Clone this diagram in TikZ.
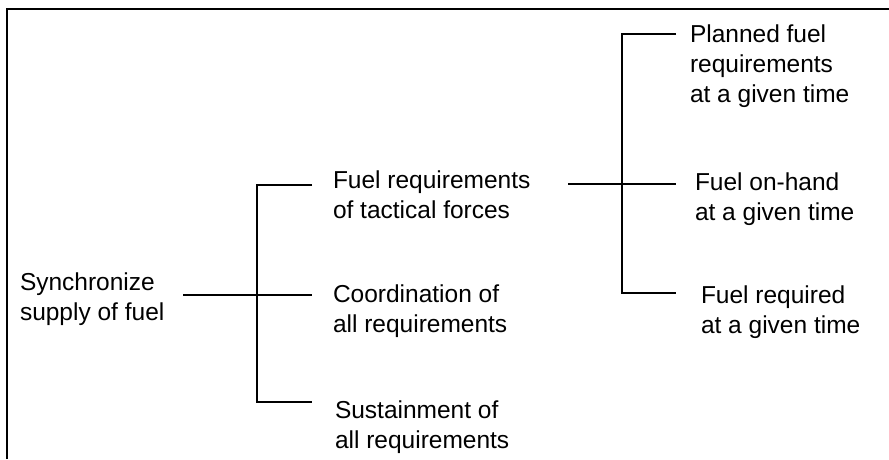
\documentclass[tikz,border=0pt]{standalone}
\usepackage{fontspec}
\setmainfont{Liberation Sans}
\begin{document}
\begin{tikzpicture}[x=1pt,y=-1pt,
  label/.style={anchor=north west,align=left,inner sep=0pt,outer sep=0pt,
    font=\fontsize{24.5}{30}\selectfont},
  conn/.style={line width=1.3pt,black},
  frame/.style={line width=1.8pt,black}]
\useasboundingbox (0,0) rectangle (889,459);
\draw[frame] (7,459) -- (7,9) -- (889,9);
% text nodes
\node[label] (root) at (20,272.3) {Synchronize\\supply of fuel};
\node[label] (c1) at (333,170.3) {Fuel requirements\\of tactical forces};
\node[label] (c2) at (333,284.3) {Coordination of\\all requirements};
\node[label] (c3) at (335,400.3) {Sustainment of\\all requirements};
\node[label] (g1) at (690,24.3) {Planned fuel\\requirements\\at a given time};
\node[label] (g2) at (695,172.3) {Fuel on-hand\\at a given time};
\node[label] (g3) at (701,285.3) {Fuel required\\at a given time};
% joints
\coordinate (r0) at (183,295);
\coordinate (b1) at (257,185);
\coordinate (b3) at (257,402);
\coordinate (e1) at (312,185);
\coordinate (e2) at (312,295);
\coordinate (e3) at (312,402);
\coordinate (s0) at (568,184);
\coordinate (jt) at (622,34);
\coordinate (jb) at (622,293);
\coordinate (f1) at (676,34);
\coordinate (f2) at (676,184);
\coordinate (f3) at (676,293);
% connectors
\draw[conn] (r0) -- (e2);
\draw[conn] (e1) -- (b1) -- (b3) -- (e3);
\draw[conn] (s0) -- (f2);
\draw[conn] (f1) -- (jt) -- (jb) -- (f3);
\end{tikzpicture}
\end{document}
